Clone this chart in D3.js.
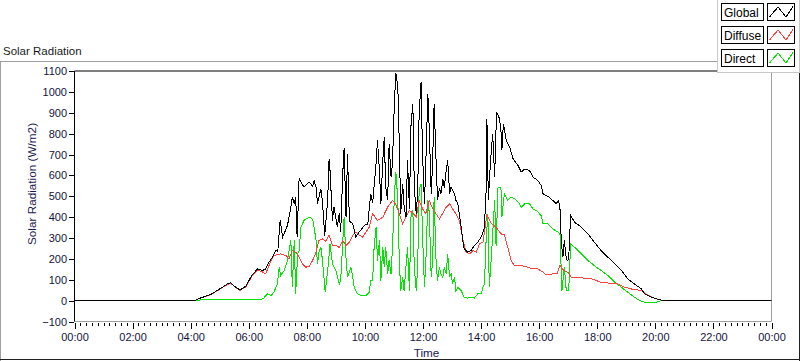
<!DOCTYPE html>
<html><head><meta charset="utf-8">
<script src="https://cdn.jsdelivr.net/npm/d3@7"></script>
<style>
html,body{margin:0;padding:0;background:#fff;}
svg{display:block;font-family:"Liberation Sans",Arial,sans-serif;}
</style></head>
<body><svg id="chart" width="800" height="361"></svg>
<script>
const seriesNames = ["Global","Diffuse","Direct"];
const seriesColors = ["#000000","#ff4040","#00e600"];
const yTicks = [-100,0,100,200,300,400,500,600,700,800,900,1000,1100];
const xTickLabels = ["00:00","02:00","04:00","06:00","08:00","10:00","12:00","14:00","16:00","18:00","20:00","22:00","00:00"];

const globalTimes = ["00:00","04:08","04:21","04:41","05:02","05:16","05:23","05:33","05:42","05:54","06:06","06:18","06:28","06:35","06:42","06:49","06:56","07:00","07:05","07:10","07:20","07:27","07:30","07:34","07:37","07:40","07:44","07:54","08:05","08:12","08:15","08:19","08:22","08:29","08:32","08:37","08:43","08:46","08:48","08:53","08:56","09:03","09:07","09:10","09:14","09:17","09:21","09:24","09:28","09:35","09:41","09:48","09:59","10:06","10:12","10:16","10:23","10:26","10:30","10:33","10:37","10:40","10:43","10:47","10:50","10:54","10:57","11:01","11:04","11:08","11:11","11:14","11:18","11:21","11:25","11:28","11:32","11:35","11:39","11:42","11:46","11:49","11:52","11:56","11:59","12:03","12:06","12:10","12:13","12:17","12:20","12:23","12:27","12:30","12:34","12:37","12:41","12:44","12:48","12:51","12:55","12:58","13:01","13:05","13:08","13:12","13:15","13:19","13:22","13:25","13:32","13:39","13:46","13:53","14:00","14:06","14:10","14:12","14:15","14:19","14:24","14:28","14:32","14:38","14:41","14:43","14:46","14:52","14:59","15:06","15:16","15:23","15:30","15:40","15:47","15:57","16:04","16:08","16:14","16:21","16:28","16:35","16:40","16:43","16:46","16:49","16:52","16:56","16:59","17:01","17:05","17:13","17:27","17:41","17:54","18:08","18:22","18:36","18:50","19:03","19:17","19:31","19:38","19:52","20:06","20:16","24:00"];
const globalValues = [0,0,13,29,59,80,85,64,51,69,120,152,144,152,184,208,240,235,387,304,360,448,496,464,496,304,584,544,568,548,576,544,464,536,480,312,480,680,620,384,450,352,420,330,600,730,400,700,380,368,304,328,360,368,512,470,656,768,624,464,672,784,544,480,752,592,660,960,1088,1024,752,416,560,448,400,672,440,832,944,544,416,520,896,1048,704,464,672,992,816,512,672,944,672,480,540,512,580,540,624,672,512,544,530,512,480,464,416,352,288,248,232,240,264,280,304,340,480,872,480,650,800,592,904,872,816,720,848,768,736,680,648,616,630,624,592,576,552,512,504,496,480,464,480,440,272,208,288,200,192,200,408,376,352,320,280,240,208,176,144,104,80,56,32,16,6,0,0];

const diffuseTimes = ["00:00","04:08","04:21","04:41","05:02","05:16","05:23","05:33","05:42","05:54","06:06","06:18","06:28","06:35","06:46","06:52","07:06","07:17","07:23","07:30","07:37","07:44","07:51","07:58","08:05","08:12","08:19","08:25","08:32","08:39","08:46","08:53","09:00","09:07","09:14","09:21","09:28","09:35","09:41","09:48","09:55","10:02","10:09","10:16","10:26","10:37","10:47","10:57","11:04","11:11","11:18","11:25","11:32","11:39","11:46","11:52","11:59","12:06","12:13","12:20","12:27","12:34","12:41","12:48","12:55","13:01","13:08","13:15","13:22","13:29","13:36","13:43","13:50","13:57","14:04","14:12","14:21","14:31","14:41","14:48","14:55","15:02","15:09","15:23","15:37","15:47","15:57","16:08","16:14","16:28","16:37","16:43","16:51","16:59","17:06","17:27","17:48","18:08","18:29","18:43","18:53","19:10","19:31","19:41","19:59","20:16","24:00"];
const diffuseValues = [0,0,13,28,57,78,83,62,49,66,115,145,138,128,192,216,224,216,200,240,232,208,176,160,165,192,232,288,296,285,312,264,264,255,288,264,280,312,328,315,304,328,352,416,384,400,448,480,460,416,368,400,432,420,400,480,440,416,480,440,416,392,420,448,464,440,416,384,296,232,224,240,232,272,280,410,370,352,320,315,256,192,168,168,160,152,152,136,125,128,128,168,144,136,112,109,104,88,83,80,67,56,48,32,11,0,0];

const directTimes = ["00:00","04:08","04:20","05:00","06:00","06:30","06:35","06:39","06:46","06:52","06:59","07:03","07:06","07:13","07:20","07:27","07:30","07:34","07:37","07:41","07:44","07:48","07:54","08:05","08:12","08:15","08:19","08:22","08:25","08:29","08:32","08:38","08:43","08:48","08:53","09:00","09:07","09:10","09:17","09:21","09:24","09:31","09:35","09:38","09:45","09:52","10:02","10:09","10:12","10:16","10:19","10:23","10:26","10:30","10:33","10:37","10:40","10:43","10:47","10:50","10:54","10:57","11:01","11:04","11:08","11:11","11:14","11:18","11:21","11:28","11:32","11:35","11:39","11:42","11:46","11:49","11:52","11:56","11:59","12:03","12:06","12:10","12:13","12:17","12:20","12:23","12:27","12:30","12:34","12:37","12:41","12:44","12:48","12:51","12:55","12:58","13:01","13:05","13:08","13:12","13:19","13:25","13:32","13:39","13:46","13:53","14:00","14:04","14:07","14:10","14:14","14:17","14:21","14:24","14:28","14:31","14:35","14:41","14:43","14:48","14:55","15:02","15:09","15:16","15:23","15:30","15:40","15:47","15:54","16:04","16:08","16:18","16:28","16:39","16:43","16:47","16:52","16:56","17:01","17:05","17:13","17:27","17:41","17:54","18:08","18:22","18:36","18:50","19:03","19:17","19:28","19:38","20:02","20:12","24:00"];
const directValues = [0,0,3,4,5,8,24,32,25,40,80,160,120,144,192,288,64,288,32,224,240,352,384,400,390,352,288,176,230,256,200,40,144,272,176,144,80,100,400,200,112,160,110,64,32,24,24,40,96,96,256,352,192,288,96,256,160,256,128,192,128,256,512,616,480,192,48,112,48,256,48,400,432,160,48,160,528,560,320,64,192,480,420,112,192,496,192,96,160,128,112,160,128,224,112,128,80,112,48,64,48,16,12,16,12,32,32,64,80,272,416,64,200,320,480,260,544,544,400,512,480,496,488,475,448,464,464,440,432,408,368,368,344,328,320,48,160,48,48,272,256,224,192,168,144,120,88,64,40,16,0,-8,-8,0,0];

function toDate(s){const [h,m]=s.split(":").map(Number);return new Date(2000,0,1,h,m);}
const zip=(ts,vs)=>ts.map((t,i)=>({t:toDate(t),v:vs[i]}));
const series=[zip(globalTimes,globalValues),zip(diffuseTimes,diffuseValues),zip(directTimes,directValues)];

const svg=d3.select("#chart");
const L=74.5,R=771.5,T=71,B=321.5;
const x=d3.scaleTime().domain([new Date(2000,0,1,0,0),new Date(2000,0,2,0,0)]).range([L,R]);
const y=d3.scaleLinear().domain([-100,1100]).range([B,T]);

// outer frame
svg.append("line").attr("x1",0).attr("x2",800).attr("y1",61.5).attr("y2",61.5).attr("stroke","#a0a0a0");
svg.append("line").attr("x1",0.5).attr("x2",0.5).attr("y1",61.5).attr("y2",361).attr("stroke","#a0a0a0");
svg.append("line").attr("x1",0).attr("x2",800).attr("y1",359.5).attr("y2",359.5).attr("stroke","#202020");
svg.append("line").attr("x1",799.5).attr("x2",799.5).attr("y1",61.5).attr("y2",361).attr("stroke","#202020");

svg.append("text").attr("x",3).attr("y",55).attr("font-size","11.5px").attr("fill","#1a1a1a").text("Solar Radiation");

// plot frame
svg.append("line").attr("x1",R).attr("x2",R).attr("y1",T).attr("y2",B).attr("stroke","#a0a0a0");
svg.append("line").attr("x1",L).attr("x2",R).attr("y1",B).attr("y2",B).attr("stroke","#a0a0a0");

svg.append("clipPath").attr("id","clip").append("rect").attr("x",L).attr("y",T).attr("width",R-L).attr("height",B-T);

const line=d3.line().x(d=>x(d.t)).y(d=>y(d.v));
const g=svg.append("g").attr("clip-path","url(#clip)");
[2,1,0].forEach(i=>{
  g.append("path").datum(series[i]).attr("d",line).attr("fill","none")
   .attr("stroke",seriesColors[i]).attr("stroke-width",1).attr("shape-rendering","crispEdges");
});

svg.append("line").attr("x1",L).attr("x2",R).attr("y1",T).attr("y2",T).attr("stroke","#000");
svg.append("line").attr("x1",L).attr("x2",L).attr("y1",T).attr("y2",B).attr("stroke","#000");

// y axis
const yAxis=d3.axisLeft(y).tickValues(yTicks).tickSize(5).tickPadding(2).tickFormat(d3.format("d"));
const ya=svg.append("g").attr("transform",`translate(${L-0.5},0)`).call(yAxis);
ya.select(".domain").remove();
ya.selectAll("text").attr("font-size","11px").attr("fill","#141440").attr("font-family","Liberation Sans, Arial, sans-serif");
ya.selectAll("line").attr("stroke","#000").attr("shape-rendering","crispEdges");

// x axis
const xMajor=d3.range(0,13).map(i=>new Date(2000,0,1,2*i,0));
const xMinor=d3.range(0,121).map(i=>new Date(2000,0,1,0,12*i)).filter(d=>d.getMinutes()!==0||d.getHours()%2!==0);
const xa=svg.append("g").attr("transform",`translate(0,${B+1})`)
  .call(d3.axisBottom(x).tickValues(xMajor).tickSize(6).tickPadding(5).tickFormat((d,i)=>xTickLabels[i]));
xa.select(".domain").remove();
xa.selectAll("text").attr("font-size","11px").attr("fill","#141440").attr("font-family","Liberation Sans, Arial, sans-serif");
xa.selectAll("line").attr("stroke","#000").attr("shape-rendering","crispEdges");
const xm=svg.append("g").attr("transform",`translate(0,${B+1})`)
  .call(d3.axisBottom(x).tickValues(xMinor).tickSize(3).tickFormat(""));
xm.select(".domain").remove();
xm.selectAll("line").attr("stroke","#000").attr("shape-rendering","crispEdges");

// axis titles
svg.append("text").attr("transform","translate(36,184) rotate(-90)").attr("text-anchor","middle")
  .attr("font-size","11.75px").attr("fill","#1a1a50").text("Solar Radiation (W/m2)");
svg.append("text").attr("x",426.5).attr("y",357).attr("text-anchor","middle")
  .attr("font-size","11.75px").attr("fill","#1a1a50").text("Time");

// legend
const lg=svg.append("g");
lg.append("rect").attr("x",717.5).attr("y",-1).attr("width",82).attr("height",73.5).attr("fill","#fff").attr("stroke","#c8c8c8");
seriesNames.forEach((name,i)=>{
  const top=3.5+23*i;
  lg.append("rect").attr("x",721.5).attr("y",top).attr("width",42).attr("height",17).attr("fill","#fff").attr("stroke","#000");
  lg.append("text").attr("x",724).attr("y",top+13.5).attr("font-size","12px").attr("fill","#000").text(name);
  lg.append("rect").attr("x",767.5).attr("y",top).attr("width",27).attr("height",17).attr("fill","#fff").attr("stroke","#000");
  lg.append("polyline").attr("points",[[769.5,top+13.5],[778,top+3.5],[786,top+13.5],[793,top+3]].map(p=>p.join(",")).join(" "))
    .attr("fill","none").attr("stroke",seriesColors[i]).attr("shape-rendering","crispEdges");
});
</script></body></html>
